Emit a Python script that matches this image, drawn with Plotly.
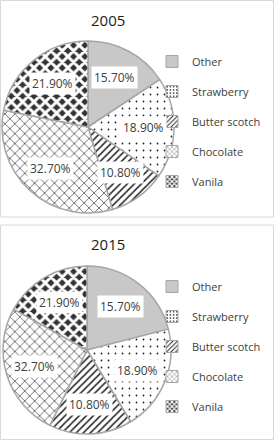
import math
import plotly.graph_objects as go

# ---- data ----
flavors = ["Other", "Strawberry", "Butter scotch", "Chocolate", "Vanila"]
share_2005 = [15.7, 18.9, 10.8, 32.7, 21.9]
share_2015 = [21.0, 20.3, 16.0, 25.8, 16.9]   # slice sizes as drawn in the 2015 pie
label_text = ["15.70%", "18.90%", "10.80%", "32.70%", "21.90%"]
years = ["2005", "2015"]

# ---- styles ----
W, H = 274, 440
pat_shape = ["", ".", "/", "x", "x"]
pat_bg = ["#c8c8c8", "white", "white", "white", "#333333"]
pat_fg = ["#c8c8c8", "#222222", "#222222", "#222222", "white"]
pat_size = [8, 7, 5, 7, 8]
pat_sol = [0.2, 0.05, 0.3, 0.17, 0.6]
edge = "#a6a6a6"
txt = "#404040"
FONT = "Open Sans"

# pie geometry in pixels: (center x, center y, radius)
pies = [(88, 127, 86), (87, 350, 84)]
legend_top = [47, 272]
title_y = [20, 244]

fig = go.Figure()
annotations = []
for k, (year, vals) in enumerate(zip(years, [share_2005, share_2015])):
    cx, cy, R = pies[k]
    fig.add_trace(go.Pie(
        labels=flavors, values=vals, sort=False, direction="clockwise", rotation=0,
        textinfo="none", showlegend=False, hoverinfo="label+percent",
        domain=dict(x=[(cx - R) / W, (cx + R) / W], y=[1 - (cy + R) / H, 1 - (cy - R) / H]),
        marker=dict(colors=pat_bg, line=dict(color=edge, width=1.5),
                    pattern=dict(shape=pat_shape, fgcolor=pat_fg, bgcolor=pat_bg,
                                 size=pat_size, solidity=pat_sol, fillmode="replace")),
    ))
    total = sum(vals)
    cum = 0.0
    for v, t in zip(vals, label_text):
        mid = math.radians((cum + v / 2) / total * 360)
        cum += v
        x = cx + 0.65 * R * math.sin(mid)
        y = cy - 0.65 * R * math.cos(mid)
        annotations.append(dict(x=x / W, y=1 - y / H, xref="paper", yref="paper",
                                xanchor="center", yanchor="middle",
                                text=t, showarrow=False, bgcolor="white", borderpad=2,
                                font=dict(family=FONT, size=12, color=txt)))
    annotations.append(dict(x=108 / W, y=1 - title_y[k] / H, xref="paper", yref="paper",
                            xanchor="center", yanchor="middle",
                            text=year, showarrow=False,
                            font=dict(family=FONT, size=15, color="#222222")))
    leg = "legend" if k == 0 else "legend2"
    for i, f in enumerate(flavors):
        fig.add_trace(go.Bar(
            x=[None], y=[None], name=f, legend=leg, legendgroup=f + year,
            marker=dict(color=pat_bg[i], line=dict(color=edge, width=1),
                        pattern=dict(shape=pat_shape[i], fgcolor=pat_fg[i], bgcolor=pat_bg[i],
                                     size=4, solidity=pat_sol[i] if i != 1 else 0.2,
                                     fillmode="replace")),
            hoverinfo="skip",
        ))

legend_common = dict(xanchor="left", yanchor="top", tracegroupgap=11,
                     bgcolor="rgba(0,0,0,0)", font=dict(family=FONT, size=11, color=txt),
                     traceorder="grouped")

shapes = [
    dict(type="rect", xref="paper", yref="paper", x0=0.5 / W, x1=273.5 / W,
         y0=1 - 217 / H, y1=1 - 0.5 / H, line=dict(color="#d9d9d9", width=1)),
    dict(type="rect", xref="paper", yref="paper", x0=0.5 / W, x1=273.5 / W,
         y0=1 - 439.5 / H, y1=1 - 225 / H, line=dict(color="#d9d9d9", width=1)),
]

fig.update_layout(
    width=W, height=H, margin=dict(l=0, r=0, t=0, b=0),
    paper_bgcolor="white", plot_bgcolor="white",
    xaxis=dict(visible=False), yaxis=dict(visible=False),
    legend=dict(x=152 / W, y=1 - legend_top[0] / H, **legend_common),
    legend2=dict(x=152 / W, y=1 - legend_top[1] / H, **legend_common),
    annotations=annotations, shapes=shapes,
)

fig.write_html("out.html")
